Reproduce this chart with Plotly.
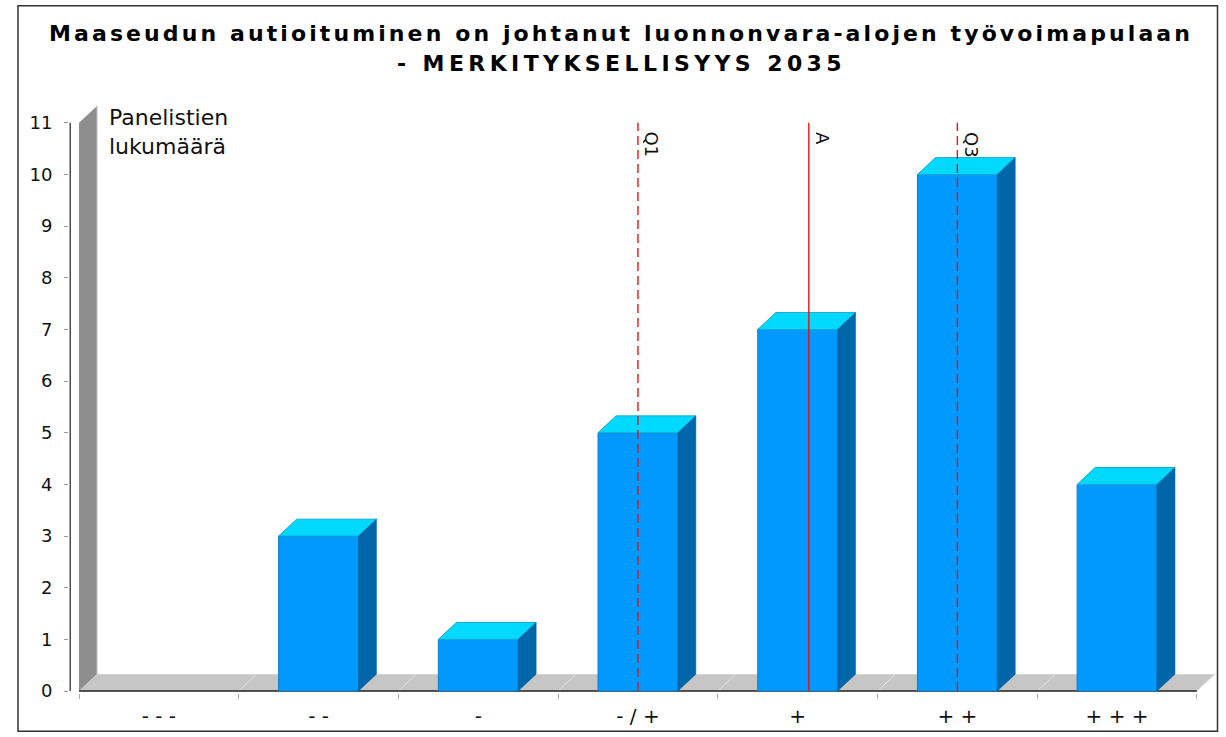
import plotly.graph_objects as go

# ---- data ----
categories = ["- - -", "- -", "-", "- / +", "+", "+ +", "+ + +"]
counts = [0, 3, 1, 5, 7, 10, 4]
y_ticks = list(range(0, 12))
stat_names = ["Q1", "A", "Q3"]
stat_values = [4, 5.07, 6]          # on the 1..7 category scale
stat_dash = ["dash", "solid", "dash"]
title_lines = ["Maaseudun autioituminen on johtanut luonnonvara-alojen työvoimapulaan",
               "- MERKITYKSELLISYYS 2035"]
y_title = "Panelistien<br>lukumäärä"

# ---- geometry / style ----
W, H = 1226, 737
PX_X = 159.7   # px per category
PX_Y = 52.0    # px per count
X0_PX = 79     # pixel of x=0
Y0_PX = 695    # pixel of y=0
ML, MR, MT, MB = X0_PX - 10, 9, 100, H - Y0_PX - 2
pw, ph = W - ML - MR, H - MT - MB
x_lo = (ML - X0_PX) / PX_X
x_hi = x_lo + pw / PX_X
y_lo = -(MT + ph - Y0_PX) / PX_Y
y_hi = y_lo + ph / PX_Y
DX = 18 / PX_X
DY = 17 / PX_Y
BAR_W = 0.5
ymax = y_ticks[-1]

FONT = "DejaVu Sans"
FRONT, TOP, SIDE = "#0099ff", "#00d9ff", "#0066aa"


def px_x(p):
    return (p - ML) / pw


def px_y(p):
    return (H - MB - p) / ph


fig = go.Figure()


def poly(xs, ys, fill, line_color=None, lw=0):
    fig.add_trace(go.Scatter(
        x=xs + [xs[0]], y=ys + [ys[0]], mode="lines", fill="toself",
        fillcolor=fill, line=dict(color=line_color or fill, width=lw),
        hoverinfo="skip", showlegend=False))


n = len(categories)
# left wall
poly([0, 0, DX, DX], [0, ymax, ymax + DY, DY], "#8e8e8e")
# floor
poly([0, DX, n + DX, n], [0, DY, DY, 0], "#c6c6c6")
# floor grid lines at boundaries
for i in range(1, n + 1):
    fig.add_trace(go.Scatter(x=[i, i + DX], y=[0, DY], mode="lines",
                             line=dict(color="#e2e2e2", width=1),
                             hoverinfo="skip", showlegend=False))
# wall right edge highlight
fig.add_trace(go.Scatter(x=[DX, DX], y=[DY, ymax + DY], mode="lines",
                         line=dict(color="#c0c0c0", width=1),
                         hoverinfo="skip", showlegend=False))
# x axis front line
fig.add_trace(go.Scatter(x=[0, n], y=[0, 0], mode="lines",
                         line=dict(color="#222222", width=1.5),
                         hoverinfo="skip", showlegend=False))
# y axis line
fig.add_trace(go.Scatter(x=[x_lo + 1.2 / PX_X] * 2, y=[0, ymax], mode="lines",
                         line=dict(color="#222222", width=1.2),
                         hoverinfo="skip", showlegend=False))

# bars
for i, v in enumerate(counts):
    if v <= 0:
        continue
    l = i + (1 - BAR_W) / 2
    r = l + BAR_W
    poly([l, r, r, l], [0, 0, v, v], FRONT, "#0a7fd0", 1)
    poly([l, l + DX, r + DX, r], [v, v + DY, v + DY, v], TOP, "#1aa9cf", 1)
    poly([r, r + DX, r + DX, r], [0, DY, v + DY, v], SIDE, "#0a5f9c", 0.5)

# statistic lines
annotations = []
for name, val, dash in zip(stat_names, stat_values, stat_dash):
    xv = val - 0.5
    fig.add_trace(go.Scatter(x=[xv, xv], y=[0, ymax], mode="lines",
                             line=dict(color="#ee1111", width=1.4,
                                       dash="9px,5px" if dash == "dash" else "solid"),
                             hoverinfo="skip", showlegend=False))
    annotations.append(dict(x=xv, y=ymax, xref="x", yref="y", text=name,
                            textangle=90, showarrow=False, xanchor="left",
                            yanchor="top", xshift=1, yshift=-7,
                            font=dict(family=FONT, size=18, color="#111111")))

annotations.append(dict(x=px_x(107), y=px_y(103), xref="paper", yref="paper",
                        text=y_title, showarrow=False, xanchor="left", yanchor="top",
                        align="left", font=dict(family=FONT, size=22, color="#111111")))
for txt, yc, sp in zip(title_lines, [33, 63], [3.1, 4.4]):
    annotations.append(dict(x=px_x(621), y=px_y(yc), xref="paper", yref="paper",
                            text='<span style="letter-spacing:%.1fpx">' % sp + "<b>" + txt + "</b></span>",
                            showarrow=False, xanchor="center", yanchor="middle",
                            font=dict(family=FONT, size=22, color="#000000")))

fig.update_layout(
    width=W, height=H,
    margin=dict(l=ML, r=MR, t=MT, b=MB),
    paper_bgcolor="white", plot_bgcolor="white",
    showlegend=False,
    annotations=annotations,
    shapes=[dict(type="rect", xref="paper", yref="paper",
                 x0=px_x(18), x1=px_x(1217.5), y0=px_y(5), y1=px_y(735.5),
                 line=dict(color="#333333", width=1.5), fillcolor="rgba(0,0,0,0)",
                 layer="below")],
    xaxis=dict(range=[x_lo, x_hi], showgrid=False, zeroline=False, showline=False,
               tickvals=[i + 0.5 for i in range(n)], ticktext=categories,
               ticks="", ticklabelstandoff=9,
               tickfont=dict(family=FONT, size=20, color="#111111"),
               minor=dict(tickvals=list(range(n + 1)), ticks="outside", ticklen=5,
                          tickcolor="#aaaaaa", showgrid=False)),
    yaxis=dict(range=[y_lo, y_hi], showgrid=False, zeroline=False, showline=False,
               tickvals=y_ticks, ticks="outside", ticklen=4, tickcolor="#999999",
               ticklabelstandoff=8,
               tickfont=dict(family=FONT, size=18, color="#111111")),
)

fig.write_html("out.html", config={"displayModeBar": False},
               post_script="document.body.style.margin='0';document.body.style.overflow='hidden';")
